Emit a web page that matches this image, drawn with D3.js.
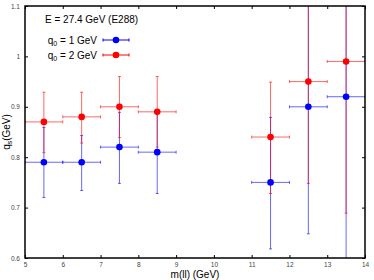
<!DOCTYPE html>
<html><head><meta charset="utf-8">
<script src="https://cdn.jsdelivr.net/npm/d3@7"></script>
<style>body{margin:0;background:#fff}svg{display:block}text{font-family:"Liberation Sans",Arial,sans-serif}</style>
</head><body><div id="c"></div>
<script>
const xTicks = [5,6,7,8,9,10,11,12,13,14];
const yTicks = [0.6,0.7,0.8,0.9,1,1.1];
const yTickLabels = ["0.6","0.7","0.8","0.9","1","1.1"];
const mass = [5.5,6.5,7.5,8.5,11.5,12.5,13.5];
const massLo = [5,6,7,8,11,12,13];
const massHi = [6,7,8,9,12,13,14];
// q0 = 1 GeV
const blueVal = [0.79,0.79,0.82,0.81,0.75,0.90,0.92];
const blueLo  = [0.72,0.734,0.748,0.728,0.618,0.648,0.55];
const blueHi  = [0.859,0.843,0.889,0.89,0.879,1.2,1.3];
// q0 = 2 GeV
const redVal = [0.87,0.88,0.90,0.89,0.84,0.95,0.99];
const redLo  = [0.809,0.828,0.839,0.82,0.728,0.748,0.689];
const redHi  = [0.929,0.929,0.96,0.96,0.949,1.2,1.3];
const seriesNames = ["q0 = 1 GeV","q0 = 2 GeV"];
const colors = ["#0000ff","#ff0000"];

const W=374,H=280, L=25,R=365,T=6,B=258;
const svg=d3.select("#c").append("svg").attr("width",W).attr("height",H);
const x=d3.scaleLinear().domain([5,14]).range([L,R]);
const y=d3.scaleLinear().domain([0.6,1.1]).range([B,T]);

svg.append("defs").append("clipPath").attr("id","clip").append("rect")
  .attr("x",L).attr("y",T).attr("width",R-L).attr("height",B-T);

svg.append("g").attr("transform",`translate(0,${B})`).call(d3.axisBottom(x).tickValues(xTicks).tickSize(-3).tickPadding(4).tickFormat(d3.format("d")))
  .call(g=>{g.select(".domain").remove();g.selectAll("text").attr("font-size",6.5).attr("fill","#444");});
svg.append("g").attr("transform",`translate(0,${T})`).call(d3.axisTop(x).tickValues(xTicks).tickSize(-3).tickFormat(""))
  .call(g=>g.select(".domain").remove());
svg.append("g").attr("transform",`translate(${L},0)`).call(d3.axisLeft(y).tickValues(yTicks).tickSize(-3).tickPadding(5).tickFormat((d,i)=>yTickLabels[i]))
  .call(g=>{g.select(".domain").remove();g.selectAll("text").attr("font-size",6.5).attr("fill","#444");});
svg.append("g").attr("transform",`translate(${R},0)`).call(d3.axisRight(y).tickValues(yTicks).tickSize(-3).tickFormat(""))
  .call(g=>g.select(".domain").remove());

const plot=svg.append("g").attr("clip-path","url(#clip)");
const sets=[[blueVal,blueLo,blueHi],[redVal,redLo,redHi]];
const cap=1.5;
sets.forEach((s,k)=>{
  const g=plot.append("g").attr("stroke",colors[k]).attr("stroke-width",1).attr("stroke-opacity",0.6);
  mass.forEach((m,i)=>{
    g.append("line").attr("x1",x(massLo[i])).attr("x2",x(massHi[i])).attr("y1",y(s[0][i])).attr("y2",y(s[0][i]));
    g.append("line").attr("x1",x(massLo[i])).attr("x2",x(massLo[i])).attr("y1",y(s[0][i])-cap).attr("y2",y(s[0][i])+cap);
    g.append("line").attr("x1",x(massHi[i])).attr("x2",x(massHi[i])).attr("y1",y(s[0][i])-cap).attr("y2",y(s[0][i])+cap);
    g.append("line").attr("x1",x(m)).attr("x2",x(m)).attr("y1",y(s[1][i])).attr("y2",y(s[2][i]));
    g.append("line").attr("x1",x(m)-cap).attr("x2",x(m)+cap).attr("y1",y(s[1][i])).attr("y2",y(s[1][i]));
    g.append("line").attr("x1",x(m)-cap).attr("x2",x(m)+cap).attr("y1",y(s[2][i])).attr("y2",y(s[2][i]));
  });
});
sets.forEach((s,k)=>{
  plot.append("g").selectAll("circle").data(mass).join("circle")
    .attr("cx",d=>x(d)).attr("cy",(d,i)=>y(s[0][i])).attr("r",3.3).attr("fill",colors[k]);
});

svg.append("rect").attr("x",L).attr("y",T).attr("width",R-L).attr("height",B-T)
  .attr("fill","none").attr("stroke","#000").attr("stroke-width",1.5);

svg.append("text").attr("x",45).attr("y",23).attr("font-size",10).text("E = 27.4 GeV (E288)");
const legY=[40,55];
seriesNames.forEach((n,k)=>{
  const t=svg.append("text").attr("x",97).attr("y",legY[k]+3.5).attr("font-size",10).attr("text-anchor","end");
  t.append("tspan").text("q");
  t.append("tspan").attr("font-size",7).attr("dy",2).text("0");
  t.append("tspan").attr("dy",-2).text(n.slice(2));
  svg.append("line").attr("x1",103).attr("x2",129).attr("y1",legY[k]).attr("y2",legY[k]).attr("stroke",colors[k]).attr("stroke-width",1);
  [103,129].forEach(xx=>svg.append("line").attr("x1",xx).attr("x2",xx).attr("y1",legY[k]-1.5).attr("y2",legY[k]+1.5).attr("stroke",colors[k]));
  svg.append("circle").attr("cx",116).attr("cy",legY[k]).attr("r",3.3).attr("fill",colors[k]);
});

svg.append("text").attr("x",(L+R)/2).attr("y",278).attr("text-anchor","middle").attr("font-size",10).text("m(ll) (GeV)");
const yl=svg.append("text").attr("transform",`translate(10,${(T+B)/2}) rotate(-90)`).attr("text-anchor","middle").attr("font-size",10);
yl.append("tspan").text("q");
yl.append("tspan").attr("font-size",7).attr("dy",2).text("s");
yl.append("tspan").attr("dy",-2).text("(GeV)");
</script></body></html>
